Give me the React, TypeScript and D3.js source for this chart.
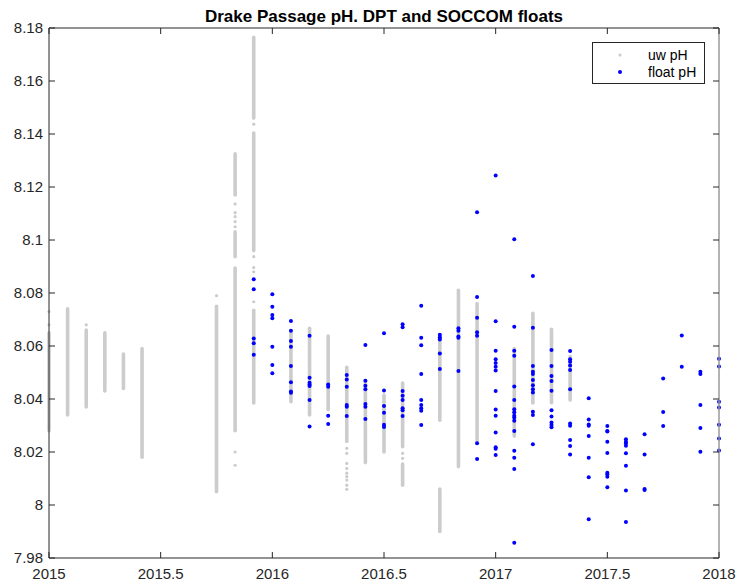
import * as d3 from "d3";
import { useEffect } from "react";

// months counted from Jan 2015 (x = 2015 + m/12)
// underway pH: dense stacks of samples, stored as [month, low, high]
const uwSegments: [number, number, number][] = [
  [0, 8.028, 8.065],
  [1, 8.034, 8.074],
  [2, 8.037, 8.066],
  [3, 8.043, 8.065],
  [4, 8.044, 8.057],
  [5, 8.018, 8.059],
  [9, 8.005, 8.075],
  [10, 8.117, 8.1325],
  [10, 8.0937, 8.1031],
  [10, 8.028, 8.0894],
  [11, 8.146, 8.1765],
  [11, 8.096, 8.1404],
  [11, 8.0385, 8.0735],
  [13, 8.039, 8.065],
  [14, 8.034, 8.0667],
  [15, 8.036, 8.0638],
  [16, 8.024, 8.052],
  [17, 8.016, 8.047],
  [18, 8.02, 8.0415],
  [19, 8.022, 8.046],
  [19, 8.0075, 8.0155],
  [21, 8.032, 8.0642],
  [21, 7.99, 8.006],
  [22, 8.0145, 8.081],
  [23, 8.024, 8.076],
  [25, 8.026, 8.059],
  [26, 8.0385, 8.0723],
  [27, 8.0386, 8.0663],
  [28, 8.0396, 8.056],
];

// isolated underway samples
const uwDots: [number, number][] = [
  [0, 8.073], [0, 8.068], [2, 8.068], [9, 8.079],
  [10, 8.1136], [10, 8.1103], [10, 8.1088], [10, 8.1069], [10, 8.105], [10, 8.02], [10, 8.015],
  [11, 8.1437], [11, 8.0937], [11, 8.0896], [11, 8.088], [11, 8.085], [11, 8.0767],
  [16, 8.0214], [16, 8.0195], [16, 8.0157], [16, 8.0138], [16, 8.012], [16, 8.0107], [16, 8.0094], [16, 8.0075], [16, 8.0059],
  [19, 8.0195], [19, 8.0176],
];

// float pH, one list per month from month 11 (Dec 2015) to 36 (Jan 2018)
const floatStart = 11;
const floatPH: number[][] = [
  [8.0852, 8.0814, 8.0628, 8.061, 8.0567],
  [8.0795, 8.0748, 8.0717, 8.0705, 8.0597, 8.0528, 8.0497],
  [8.0694, 8.0658, 8.0619, 8.0597, 8.0525, 8.0463, 8.0428, 8.0424],
  [8.0639, 8.048, 8.0461, 8.0455, 8.0449, 8.0396, 8.0296],
  [8.0455, 8.0446, 8.0337, 8.0306],
  [8.0491, 8.0474, 8.0446, 8.0377, 8.0371, 8.0336],
  [8.0604, 8.0469, 8.045, 8.0437, 8.0381, 8.0371, 8.0325],
  [8.0648, 8.0432, 8.0374, 8.0348, 8.0303, 8.0294],
  [8.0682, 8.0671, 8.043, 8.0412, 8.0396, 8.0365, 8.0358, 8.0336],
  [8.0752, 8.0631, 8.0603, 8.0494, 8.0396, 8.0377, 8.0365, 8.0356, 8.0302],
  [8.0642, 8.0633, 8.0625, 8.0572, 8.0513],
  [8.0667, 8.0658, 8.0636, 8.0631, 8.0506],
  [8.1105, 8.0785, 8.0707, 8.0652, 8.0639, 8.0233, 8.0174],
  [8.1243, 8.0693, 8.0582, 8.055, 8.0536, 8.0522, 8.0508, 8.043, 8.036, 8.0337, 8.0274, 8.0218, 8.0212, 8.0189],
  [8.1003, 8.0673, 8.0582, 8.0563, 8.0447, 8.0396, 8.0361, 8.035, 8.0337, 8.033, 8.0318, 8.0279, 8.0205, 8.0178, 8.0136, 7.9858],
  [8.0864, 8.0669, 8.0525, 8.0503, 8.0494, 8.0472, 8.0452, 8.0437, 8.0425, 8.0352, 8.034, 8.0229],
  [8.0585, 8.0525, 8.0487, 8.0468, 8.0431, 8.0358, 8.0334, 8.0311, 8.0302, 8.0293],
  [8.0581, 8.055, 8.0541, 8.0526, 8.0509, 8.0437, 8.0308, 8.0299, 8.0245, 8.0223, 8.0191],
  [8.0403, 8.0323, 8.0304, 8.0299, 8.026, 8.0178, 8.0105, 7.9946],
  [8.0298, 8.0279, 8.0277, 8.0239, 8.0196, 8.0122, 8.0116, 8.0107, 8.0067],
  [8.0248, 8.0239, 8.0233, 8.0224, 8.0195, 8.0148, 8.0055, 7.9936],
  [8.0267, 8.0191, 8.006, 8.0057],
  [8.0477, 8.0351, 8.0298],
  [8.064, 8.0522],
  [8.0503, 8.0494, 8.0377, 8.0291, 8.0201],
  [8.0552, 8.0523, 8.039, 8.0368, 8.0303, 8.0251, 8.0206],
];

const xTicks = [2015, 2015.5, 2016, 2016.5, 2017, 2017.5, 2018];
const yTicks = [7.98, 8, 8.02, 8.04, 8.06, 8.08, 8.1, 8.12, 8.14, 8.16, 8.18];

const W = 739;
const H = 586;
const L = 49, R = 719, T = 28, B = 558;
const font = "'Liberation Sans', Arial, Helvetica, sans-serif";
const axisCol = "#262626";
const gray = "#cccccc";
const blue = "#0000ff";

export default function App() {
  useEffect(() => {
    document.body.style.margin = "0";
  }, []);

  const x = d3.scaleLinear().domain([2015, 2018]).range([L, R]);
  const y = d3.scaleLinear().domain([7.98, 8.18]).range([B, T]);
  const mx = (m: number) => x(2015 + m / 12);

  const floats = floatPH.flatMap((vals, i) =>
    vals.map((v) => ({ m: floatStart + i, v }))
  );

  return (
    <svg width={W} height={H} style={{ display: "block", background: "#fff" }}>
      <text x={(L + R) / 2} y={22} textAnchor="middle" fontFamily={font}
        fontWeight="bold" fontSize={17} fill="#000">
        Drake Passage pH. DPT and SOCCOM floats
      </text>

      {/* underway */}
      {uwSegments.map(([m, lo, hi], i) => (
        <line key={"s" + i} x1={mx(m)} x2={mx(m)} y1={y(hi)} y2={y(lo)}
          stroke={gray} strokeWidth={3.6} strokeLinecap="round" />
      ))}
      {uwDots.map(([m, v], i) => (
        <circle key={"d" + i} cx={mx(m)} cy={y(v)} r={1.6} fill={gray} />
      ))}

      {/* floats */}
      {floats.map((d, i) => (
        <circle key={"f" + i} cx={mx(d.m)} cy={y(d.v)} r={2} fill={blue} />
      ))}

      {/* axes box */}
      <line x1={L} x2={R} y1={T} y2={T} stroke={axisCol} strokeWidth={1} />
      <line x1={L} x2={R} y1={B} y2={B} stroke={axisCol} strokeWidth={1} />
      <line x1={L} x2={L} y1={T} y2={B} stroke={axisCol} strokeWidth={1} />
      <line x1={R} x2={R} y1={T} y2={B} stroke="#9a9a9a" strokeWidth={1.5} />

      {xTicks.map((t) => (
        <g key={"x" + t}>
          <line x1={x(t)} x2={x(t)} y1={B} y2={B - 6} stroke={axisCol} />
          <line x1={x(t)} x2={x(t)} y1={T} y2={T + 6} stroke={axisCol} />
          <text x={x(t)} y={579} textAnchor="middle" fontFamily={font}
            fontSize={15} fill={axisCol}>
            {t}
          </text>
        </g>
      ))}
      {yTicks.map((t) => (
        <g key={"y" + t}>
          <line x1={L} x2={L + 6} y1={y(t)} y2={y(t)} stroke={axisCol} />
          <line x1={R} x2={R - 6} y1={y(t)} y2={y(t)} stroke={axisCol} />
          <text x={43} y={y(t)} dy="0.35em" textAnchor="end" fontFamily={font}
            fontSize={15} fill={axisCol}>
            {d3.format("~g")(t)}
          </text>
        </g>
      ))}

      {/* legend */}
      <rect x={592.5} y={42.5} width={112} height={41} fill="#fff"
        stroke={axisCol} strokeWidth={1} />
      <circle cx={620} cy={55} r={1.6} fill={gray} />
      <circle cx={620} cy={72} r={2} fill={blue} />
      <text x={648} y={55} dy="0.35em" fontFamily={font} fontSize={14} fill="#000">
        uw pH
      </text>
      <text x={648} y={72} dy="0.35em" fontFamily={font} fontSize={14} fill="#000">
        float pH
      </text>
    </svg>
  );
}
